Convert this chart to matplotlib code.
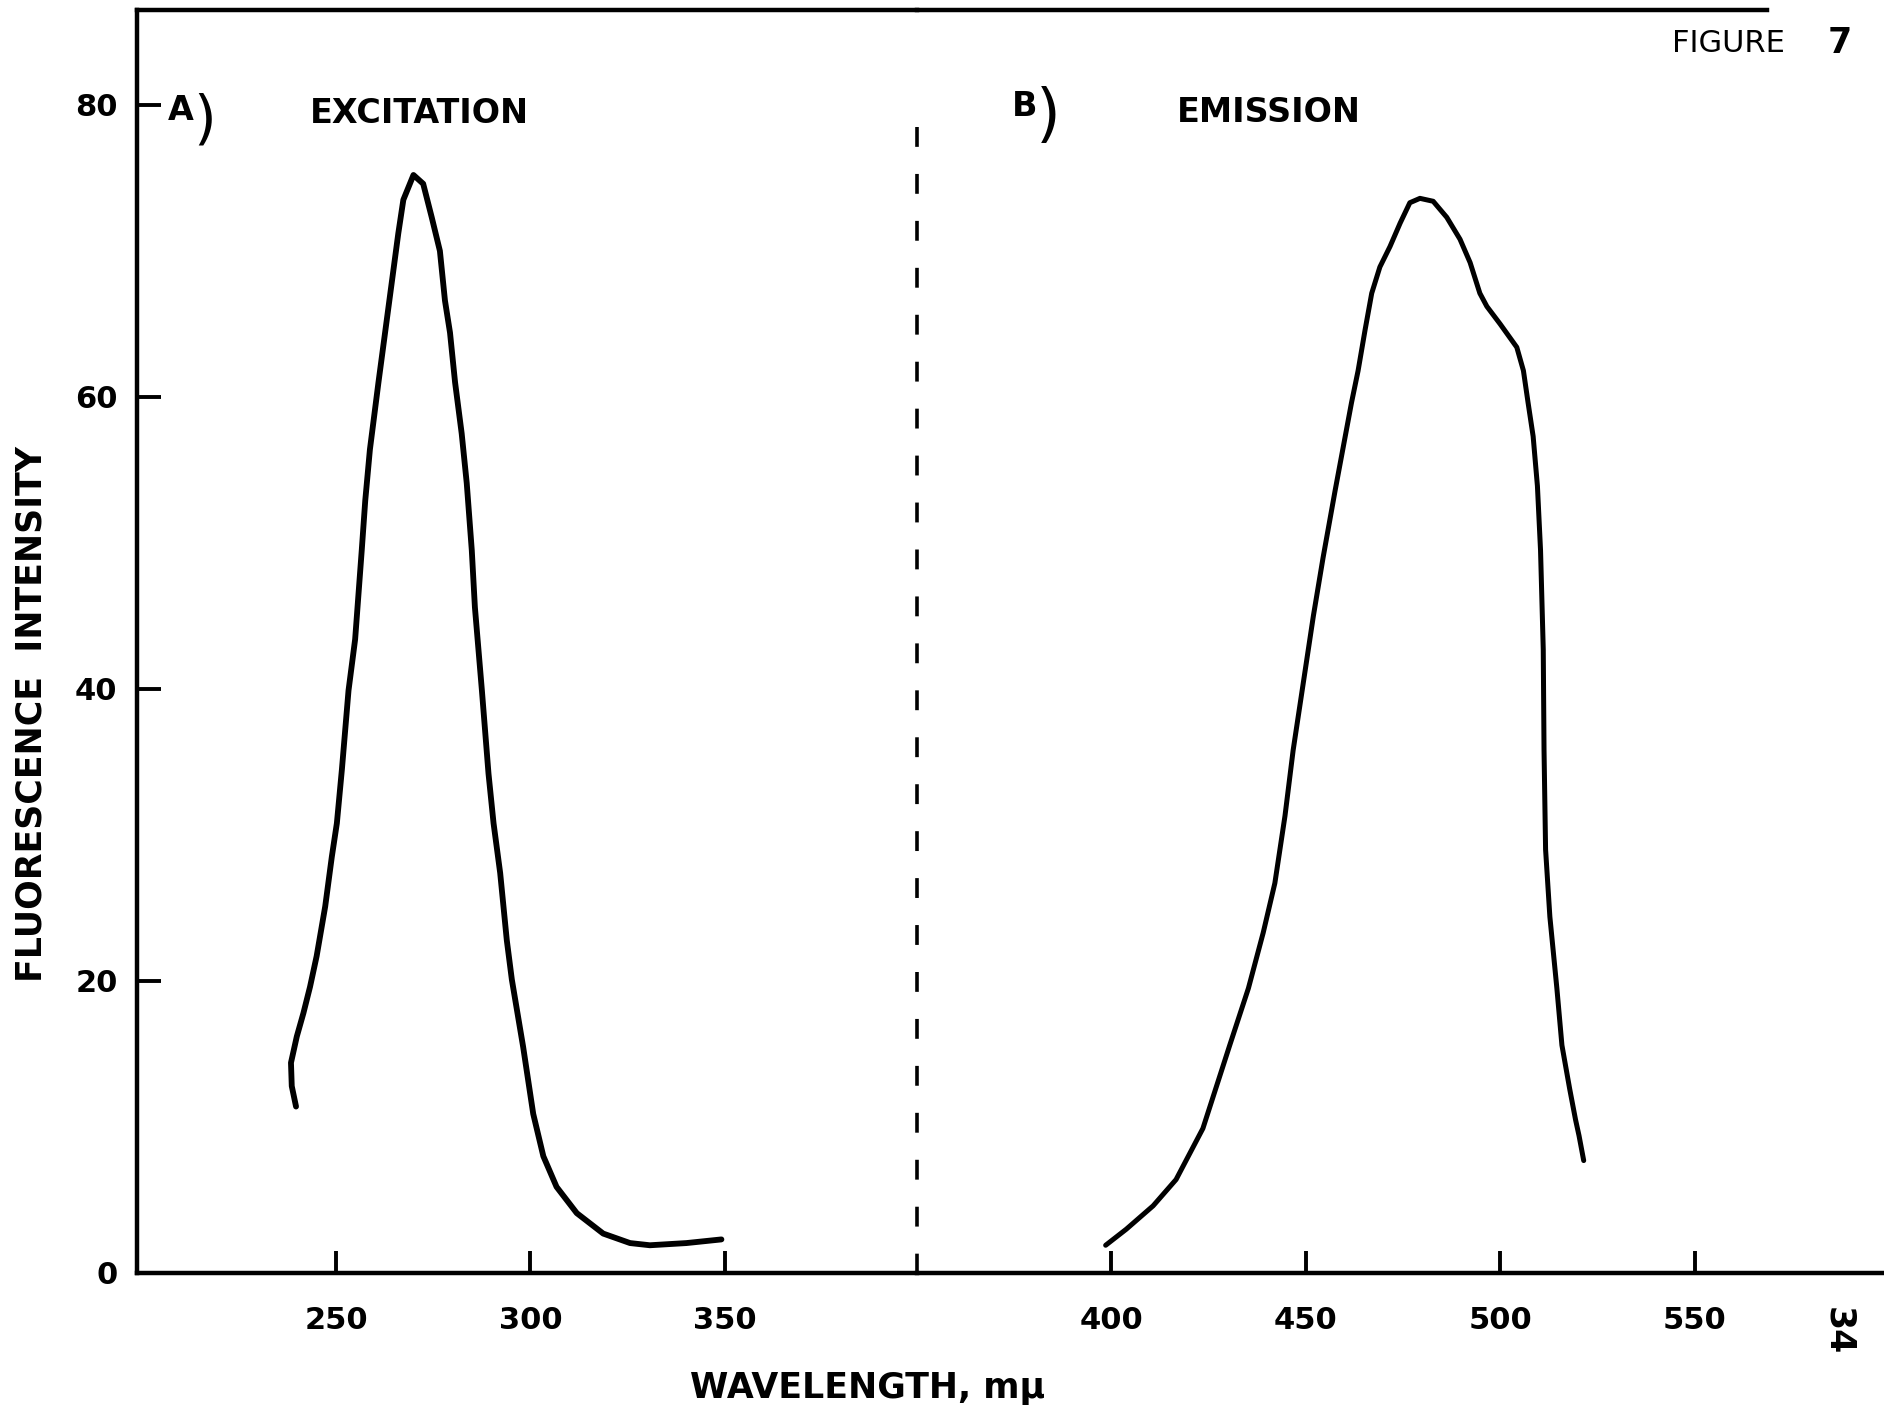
import numpy as np
import matplotlib.pyplot as plt

# A) excitation spectrum, wavelength in mu and intensity in chart units
exc_wl = [239.7, 238.6, 238.4, 239.9, 241.6, 243.3, 245.0, 247.2, 248.9, 250.2,
          251.5, 253.2, 254.9, 256.6, 257.5, 258.7, 260.9, 262.6, 264.3, 266.0,
          267.3, 269.9, 272.4, 274.6, 276.7, 278.0, 279.3, 280.6, 282.3, 283.6,
          284.9, 285.7, 287.5, 289.2, 290.5, 292.2, 293.9, 295.2, 298.1, 300.7,
          303.3, 306.7, 311.9, 318.7, 325.6, 330.7, 340.1, 349.1]
exc_int = [11.4, 12.8, 14.4, 16.2, 17.8, 19.6, 21.7, 25.1, 28.5, 30.8,
           34.5, 39.9, 43.4, 49.5, 52.9, 56.4, 61.0, 64.4, 67.8, 71.2,
           73.5, 75.2, 74.6, 72.3, 70.0, 66.6, 64.4, 61.0, 57.5, 54.1,
           49.5, 45.6, 39.9, 34.2, 30.8, 27.4, 22.8, 20.1, 15.5, 10.9,
           8.0, 5.9, 4.1, 2.7, 2.05, 1.9, 2.05, 2.3]

# B) emission spectrum
emi_wl = [398.5, 403.8, 410.7, 416.6, 423.5, 430.4, 435.2, 439.0, 442.0, 444.6,
          446.7, 449.3, 451.9, 454.4, 457.5, 459.6, 461.7, 463.4, 465.2, 466.9,
          469.0, 471.6, 474.2, 476.7, 479.3, 482.7, 486.2, 489.6, 492.2, 494.7,
          496.5, 499.9, 504.2, 505.9, 507.1, 508.4, 509.5, 510.3, 511.0, 511.2,
          511.6, 512.7, 514.5, 515.8, 517.8, 519.3, 520.2, 521.4]
emi_int = [1.9, 3.0, 4.6, 6.4, 9.9, 15.6, 19.5, 23.3, 26.7, 31.3,
           35.8, 40.4, 45.0, 49.0, 53.6, 56.6, 59.6, 61.8, 64.6, 67.1,
           68.9, 70.3, 71.9, 73.3, 73.6, 73.4, 72.3, 70.8, 69.2, 67.1,
           66.2, 65.0, 63.4, 61.8, 59.6, 57.3, 53.9, 49.5, 42.7, 35.8,
           29.0, 24.4, 19.5, 15.6, 12.6, 10.5, 9.4, 7.7]

exc_ticks = [250, 300, 350]
emi_ticks = [400, 450, 500, 550]
y_ticks = [0, 20, 40, 60, 80]

plt.rcParams['font.family'] = 'DejaVu Sans'
plt.rcParams['font.weight'] = 'bold'

W, H = 1884, 1416
fig = plt.figure(figsize=(W / 100, H / 100), dpi=100)
fig.patch.set_facecolor('white')

# the wavelength axis is broken at the dashed line, so use two axes side by side
x0, x_break, y_bot, y_top = 137, 917, 1273, 10
ax1 = fig.add_axes([x0 / W, 1 - y_bot / H, (x_break - x0) / W, (y_bot - y_top) / H])
ax2 = fig.add_axes([x_break / W, 1 - y_bot / H, (W - x_break) / W, (y_bot - y_top) / H])

ymax = 86.5
ax1.set_xlim(198.8, 399.4)
ax2.set_xlim(350, 598.6)
for ax in (ax1, ax2):
    ax.set_ylim(0, ymax)
    ax.patch.set_alpha(0)
    ax.spines['right'].set_visible(False)
    for s in ax.spines.values():
        s.set_linewidth(3.2)
ax2.spines['left'].set_visible(False)
ax2.spines['top'].set_bounds(350, 568.5)

ax1.plot(exc_wl, exc_int, color='black', lw=4.2, solid_capstyle='round',
         solid_joinstyle='round')
ax2.plot(emi_wl, emi_int, color='black', lw=3.6, solid_capstyle='round',
         solid_joinstyle='round')

# divider between the two panels
ax2.plot([350, 350], [78.5, 0], color='black', lw=2.6,
         dashes=(5.5, 7.5), clip_on=False)

ax1.set_xticks(exc_ticks)
ax2.set_xticks(emi_ticks)
ax1.set_yticks(y_ticks)
ax2.set_yticks([])
for ax in (ax1, ax2):
    ax.tick_params(axis='x', direction='in', length=16, width=2.8,
                   labelsize=22, pad=24)
ax1.tick_params(axis='y', direction='in', length=17, width=2.8,
                labelsize=22, pad=14)

# panel titles
ax1.text(210.0, 79.6, 'A', fontsize=24, ha='center', va='center')
ax1.text(216.3, 78.9, ')', fontsize=42, fontweight='normal', ha='center', va='center')
ax1.text(271.5, 79.4, 'EXCITATION', fontsize=24, ha='center', va='center')
ax2.text(377.6, 79.9, 'B', fontsize=24, ha='center', va='center')
ax2.text(383.8, 79.2, ')', fontsize=46, fontweight='normal', ha='center', va='center')
ax2.text(440.5, 79.5, 'EMISSION', fontsize=24, ha='center', va='center')

fig.text(32 / W, 1 - 714 / H, 'FLUORESCENCE  INTENSITY', rotation=90,
         fontsize=25, ha='center', va='center')
fig.text(868 / W, 1 - 1388 / H, 'WAVELENGTH, mμ', fontsize=25,
         ha='center', va='center')
fig.text(1728 / W, 1 - 43 / H, 'FIGURE', fontsize=22, fontweight='normal',
         ha='center', va='center')
fig.text(1840 / W, 1 - 43 / H, '7', fontsize=25, ha='center', va='center')
fig.text(1838 / W, 1 - 1331 / H, '34', fontsize=25, rotation=-90,
         ha='center', va='center')

fig.savefig('out.png', dpi=100)
